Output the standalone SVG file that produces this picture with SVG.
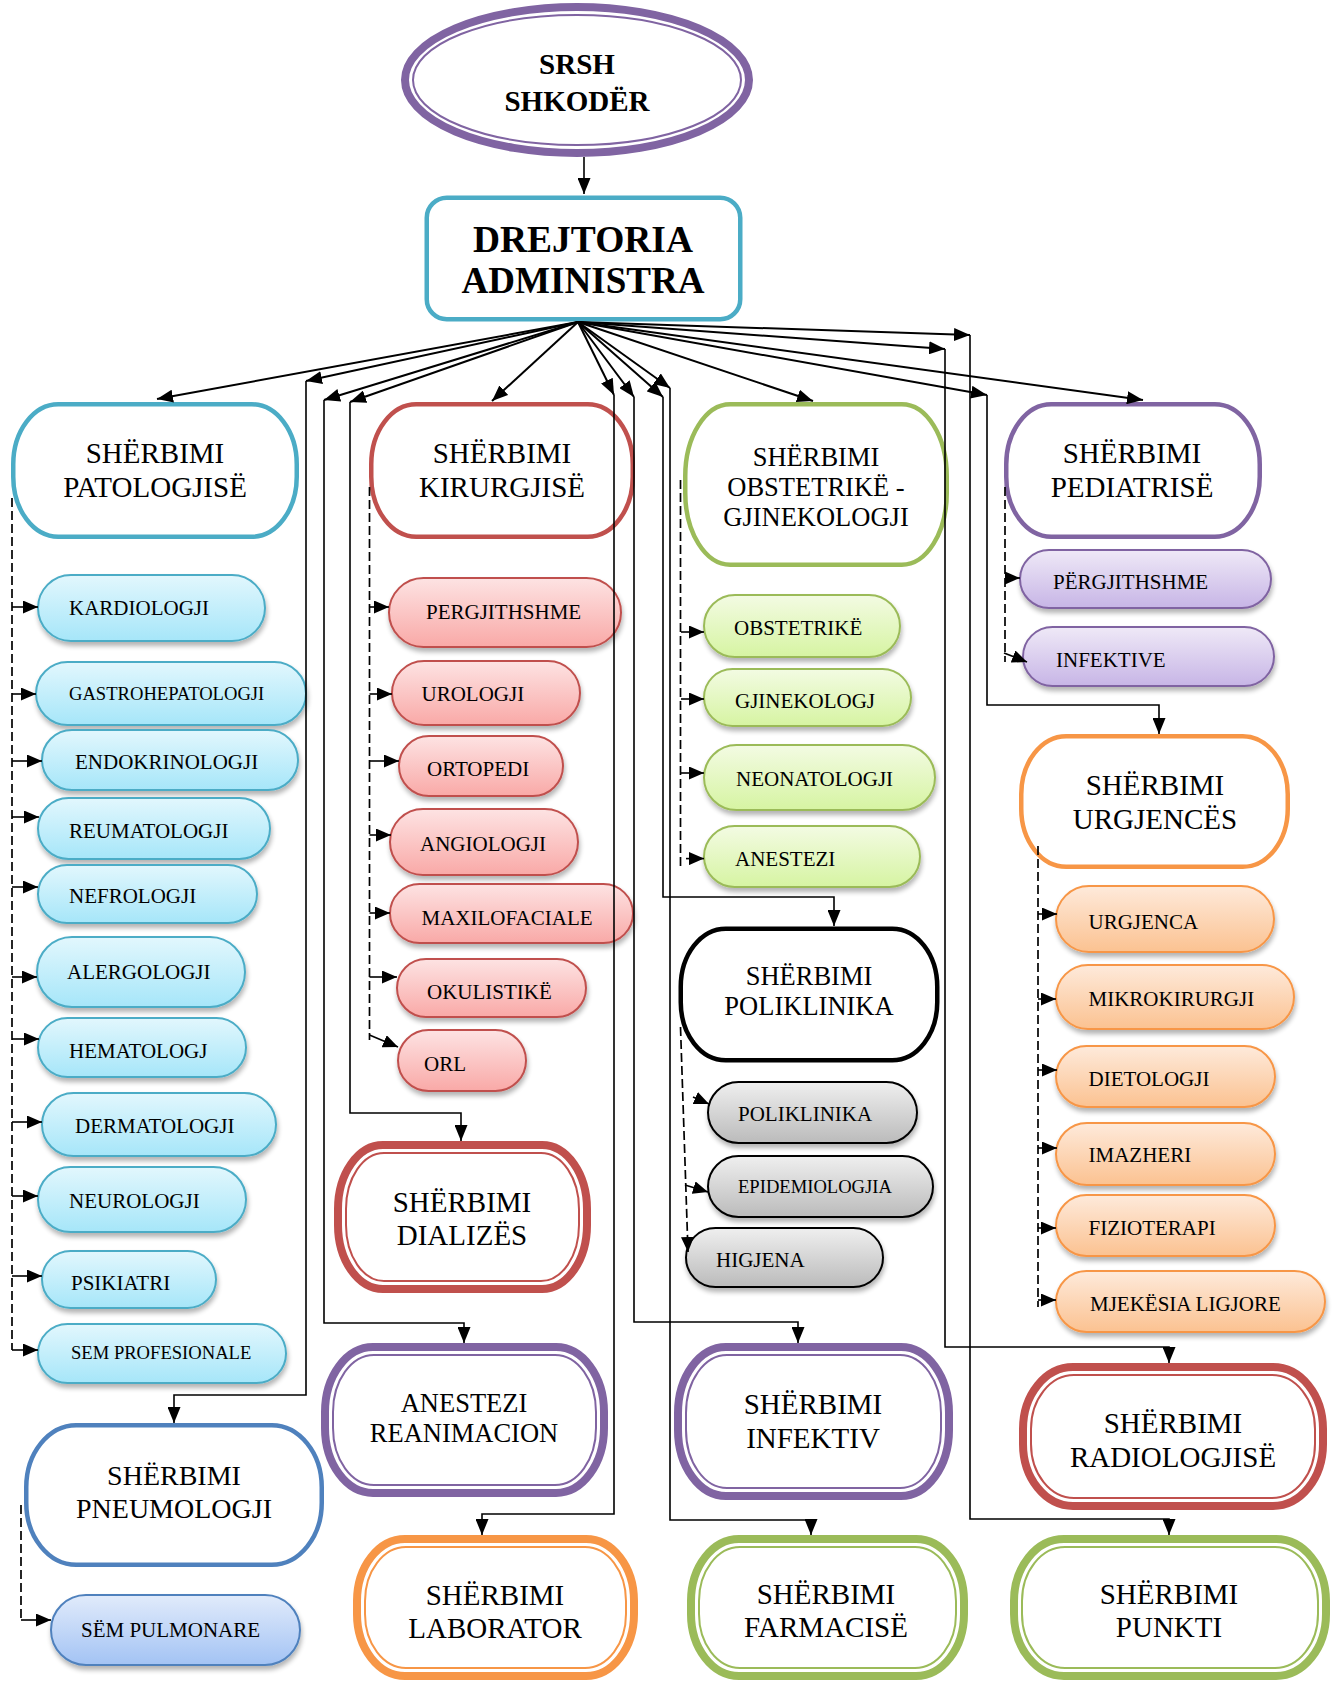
<svg xmlns="http://www.w3.org/2000/svg" width="1342" height="1682" viewBox="0 0 1342 1682">
<defs>
<style>
.tt{font-family:"Liberation Serif","Times New Roman",serif;fill:#000}
.h29{font-size:29px;text-anchor:middle}
.h28{font-size:28px;text-anchor:middle}
.h26{font-size:26.5px;text-anchor:middle}
.hb{font-weight:bold;text-anchor:middle}
.p21{font-size:21px}
.p18{font-size:18.6px}
.bn{fill:#fff;stroke-width:4.5}
.do{fill:#fff;stroke-width:8}
.di{fill:none;stroke-width:2}
.pl{stroke-width:2;filter:url(#sh)}
.c{fill:none;stroke:#000;stroke-width:1.6}
.dg{fill:none;stroke:#000;stroke-width:2}
.d{fill:none;stroke:#000;stroke-width:1.7;stroke-dasharray:9 4}
.a{marker-end:url(#ah)}
.s{marker-end:url(#as)}
.teal{stroke:#4BACC6}
.red{stroke:#C0504D}
.grn{stroke:#9BBB59}
.pur{stroke:#8064A2}
.org{stroke:#F79646}
.blk{stroke:#000}
.blu{stroke:#4F81BD}
</style>
<marker id="ah" viewBox="0 0 16 13" refX="16" refY="6.5" markerWidth="16" markerHeight="13" markerUnits="userSpaceOnUse" orient="auto"><path d="M0,0L16,6.5L0,13z" fill="#000"/></marker>
<marker id="as" viewBox="0 0 15 13" refX="15" refY="6.5" markerWidth="15" markerHeight="13" markerUnits="userSpaceOnUse" orient="auto"><path d="M0,0L15,6.5L0,13z" fill="#000"/></marker>
<filter id="sh" x="-10%" y="-20%" width="125%" height="170%"><feGaussianBlur in="SourceAlpha" stdDeviation="2.5"/><feOffset dx="1" dy="4"/><feComponentTransfer><feFuncA type="linear" slope="0.3"/></feComponentTransfer><feMerge><feMergeNode/><feMergeNode in="SourceGraphic"/></feMerge></filter>
<linearGradient id="gB" x1="0" y1="0" x2="0" y2="1"><stop offset="0" stop-color="#E2F7FD"/><stop offset="1" stop-color="#A6E6F9"/></linearGradient>
<linearGradient id="gR" x1="0" y1="0" x2="0" y2="1"><stop offset="0" stop-color="#FDE3E3"/><stop offset="1" stop-color="#F9A9A7"/></linearGradient>
<linearGradient id="gG" x1="0" y1="0" x2="0" y2="1"><stop offset="0" stop-color="#F3FBE3"/><stop offset="1" stop-color="#D6F4A2"/></linearGradient>
<linearGradient id="gP" x1="0" y1="0" x2="0" y2="1"><stop offset="0" stop-color="#EFE9F7"/><stop offset="1" stop-color="#C7B5E6"/></linearGradient>
<linearGradient id="gO" x1="0" y1="0" x2="0" y2="1"><stop offset="0" stop-color="#FEEADB"/><stop offset="1" stop-color="#FBC291"/></linearGradient>
<linearGradient id="gY" x1="0" y1="0" x2="0" y2="1"><stop offset="0" stop-color="#EFEFEF"/><stop offset="1" stop-color="#BBBBBB"/></linearGradient>
<linearGradient id="gU" x1="0" y1="0" x2="0" y2="1"><stop offset="0" stop-color="#E1EBFB"/><stop offset="1" stop-color="#A3C3F4"/></linearGradient>
</defs>
<rect x="0" y="0" width="1342" height="1682" fill="#fff"/>

<g id="srsh">
<ellipse cx="577" cy="80" rx="172" ry="73" fill="#fff" stroke="#8064A2" stroke-width="8"/>
<ellipse cx="577" cy="80" rx="164" ry="65" fill="none" stroke="#8064A2" stroke-width="2"/>
<text class="tt hb" x="577" y="73.5" font-size="29">SRSH</text>
<text class="tt hb" x="577" y="111" font-size="29">SHKODËR</text>
</g>

<g id="drejtoria">
<rect x="426.75" y="197.75" width="313.5" height="121.5" rx="20" class="bn teal" stroke-width="5.5"/>
<text class="tt hb" x="583" y="252" font-size="37" textLength="220" lengthAdjust="spacingAndGlyphs">DREJTORIA</text>
<text class="tt hb" x="583" y="293" font-size="37" textLength="243" lengthAdjust="spacingAndGlyphs">ADMINISTRA</text>
</g>

<g id="patologjise">
<rect x="13.25" y="404.25" width="283.5" height="132.5" rx="45" ry="60" class="bn teal"/>
<text class="tt h29" x="155" y="462.6">SHËRBIMI</text>
<text class="tt h29" x="155" y="496.6">PATOLOGJISË</text>
</g>
<g id="kirurgjise">
<rect x="371.25" y="404.25" width="261.5" height="132.5" rx="45" ry="60" class="bn red"/>
<text class="tt h29" x="502" y="462.6">SHËRBIMI</text>
<text class="tt h29" x="502" y="496.6">KIRURGJISË</text>
</g>
<g id="obstetrike">
<rect x="685.25" y="404.25" width="261.5" height="160.5" rx="45" ry="72" class="bn grn"/>
<text class="tt h26" x="816" y="465.7">SHËRBIMI</text>
<text class="tt h26" x="816" y="495.7">OBSTETRIKË -</text>
<text class="tt h26" x="816" y="525.7">GJINEKOLOGJI</text>
</g>
<g id="pediatrise">
<rect x="1006.25" y="404.25" width="253.5" height="132.5" rx="45" ry="60" class="bn pur"/>
<text class="tt h29" x="1132" y="462.6">SHËRBIMI</text>
<text class="tt h29" x="1132" y="496.6">PEDIATRISË</text>
</g>
<g id="urgjences">
<rect x="1021.25" y="736.25" width="266.5" height="130.5" rx="45" ry="58" class="bn org"/>
<text class="tt h29" x="1155" y="795">SHËRBIMI</text>
<text class="tt h29" x="1155" y="829">URGJENCËS</text>
</g>
<g id="poliklinika">
<rect x="680.75" y="928.75" width="256.5" height="131.5" rx="45" ry="58" class="bn blk" stroke-width="5.5"/>
<text class="tt h26" x="809" y="984.7">SHËRBIMI</text>
<text class="tt h26" x="809" y="1015">POLIKLINIKA</text>
</g>
<g id="pneumologji">
<rect x="26.25" y="1425.25" width="295.5" height="139.5" rx="50" ry="62" class="bn blu"/>
<text class="tt h28" x="174" y="1485">SHËRBIMI</text>
<text class="tt h28" x="174" y="1518">PNEUMOLOGJI</text>
</g>

<g id="dializes">
<rect x="338" y="1145" width="249" height="144" rx="45" ry="64" class="do red"/>
<rect x="346" y="1153" width="233" height="128" rx="38" ry="56" class="di red"/>
<text class="tt h29" x="462" y="1211.6">SHËRBIMI</text>
<text class="tt h29" x="462" y="1244.6">DIALIZËS</text>
</g>
<g id="anestezi-reanimacion">
<rect x="325" y="1347" width="279" height="146" rx="48" ry="65" class="do pur"/>
<rect x="333" y="1355" width="263" height="130" rx="41" ry="57" class="di pur"/>
<text class="tt h26" x="464" y="1411.7">ANESTEZI</text>
<text class="tt h26" x="464" y="1441.7">REANIMACION</text>
</g>
<g id="infektiv">
<rect x="678" y="1347" width="271" height="149" rx="48" ry="66" class="do pur"/>
<rect x="686" y="1355" width="255" height="133" rx="41" ry="58" class="di pur"/>
<text class="tt h29" x="813" y="1413.6">SHËRBIMI</text>
<text class="tt h29" x="813" y="1447.6">INFEKTIV</text>
</g>
<g id="radiologjise">
<rect x="1023" y="1367" width="300" height="139" rx="50" ry="62" class="do red"/>
<rect x="1031" y="1375" width="284" height="123" rx="43" ry="54" class="di red"/>
<text class="tt h29" x="1173" y="1432.6">SHËRBIMI</text>
<text class="tt h29" x="1173" y="1466.6">RADIOLOGJISË</text>
</g>
<g id="laborator">
<rect x="357" y="1539" width="277" height="137" rx="48" ry="62" class="do org"/>
<rect x="365" y="1547" width="261" height="121" rx="41" ry="54" class="di org"/>
<text class="tt h29" x="495" y="1604.6">SHËRBIMI</text>
<text class="tt h29" x="495" y="1637.6">LABORATOR</text>
</g>
<g id="farmacise">
<rect x="691" y="1539" width="273" height="137" rx="48" ry="62" class="do grn"/>
<rect x="699" y="1547" width="257" height="121" rx="41" ry="54" class="di grn"/>
<text class="tt h29" x="826" y="1603.6">SHËRBIMI</text>
<text class="tt h29" x="826" y="1636.6">FARMACISË</text>
</g>
<g id="punkti">
<rect x="1014" y="1539" width="312" height="137" rx="50" ry="62" class="do grn"/>
<rect x="1022" y="1547" width="296" height="121" rx="43" ry="54" class="di grn"/>
<text class="tt h29" x="1169" y="1603.6">SHËRBIMI</text>
<text class="tt h29" x="1169" y="1636.6">PUNKTI</text>
</g>

<g id="kardiologji"><rect x="38" y="575" width="227" height="66" rx="33" fill="url(#gB)" class="pl teal"/><text class="tt p21" x="69" y="615">KARDIOLOGJI</text></g>
<g id="gastrohepatologji"><rect x="36" y="662" width="270" height="63" rx="31.5" fill="url(#gB)" class="pl teal"/><text class="tt p18" x="69" y="700">GASTROHEPATOLOGJI</text></g>
<g id="endokrinologji"><rect x="42" y="730" width="256" height="60" rx="30" fill="url(#gB)" class="pl teal"/><text class="tt p21" x="75" y="769">ENDOKRINOLOGJI</text></g>
<g id="reumatologji"><rect x="38" y="798" width="232" height="61" rx="30.5" fill="url(#gB)" class="pl teal"/><text class="tt p21" x="69" y="838">REUMATOLOGJI</text></g>
<g id="nefrologji"><rect x="38" y="865" width="219" height="58" rx="29" fill="url(#gB)" class="pl teal"/><text class="tt p21" x="69" y="903">NEFROLOGJI</text></g>
<g id="alergologji"><rect x="37" y="937" width="208" height="70" rx="35" fill="url(#gB)" class="pl teal"/><text class="tt p21" x="67" y="979">ALERGOLOGJI</text></g>
<g id="hematologj"><rect x="38" y="1018" width="208" height="59" rx="29.5" fill="url(#gB)" class="pl teal"/><text class="tt p21" x="69" y="1058">HEMATOLOGJ</text></g>
<g id="dermatologji"><rect x="42" y="1093" width="234" height="63" rx="31.5" fill="url(#gB)" class="pl teal"/><text class="tt p21" x="75" y="1133">DERMATOLOGJI</text></g>
<g id="neurologji"><rect x="38" y="1167" width="208" height="65" rx="32.5" fill="url(#gB)" class="pl teal"/><text class="tt p21" x="69" y="1208">NEUROLOGJI</text></g>
<g id="psikiatri"><rect x="42" y="1251" width="174" height="57" rx="28.5" fill="url(#gB)" class="pl teal"/><text class="tt p21" x="71" y="1290">PSIKIATRI</text></g>
<g id="sem-profesionale"><rect x="38" y="1324" width="248" height="59" rx="29.5" fill="url(#gB)" class="pl teal"/><text class="tt p18" x="71" y="1359">SEM PROFESIONALE</text></g>

<g id="pergjithshme-k"><rect x="389" y="578" width="232" height="69" rx="34.5" fill="url(#gR)" class="pl red"/><text class="tt p21" x="426" y="619">PERGJITHSHME</text></g>
<g id="urologji"><rect x="392" y="661" width="188" height="64" rx="32" fill="url(#gR)" class="pl red"/><text class="tt p21" x="421.5" y="701">UROLOGJI</text></g>
<g id="ortopedi"><rect x="399" y="736" width="164" height="60" rx="30" fill="url(#gR)" class="pl red"/><text class="tt p21" x="427" y="776">ORTOPEDI</text></g>
<g id="angiologji"><rect x="390" y="809" width="188" height="66" rx="33" fill="url(#gR)" class="pl red"/><text class="tt p21" x="420" y="851">ANGIOLOGJI</text></g>
<g id="maxilofaciale"><rect x="390" y="884" width="243" height="59" rx="29.5" fill="url(#gR)" class="pl red"/><text class="tt p21" x="421.5" y="924.5">MAXILOFACIALE</text></g>
<g id="okulistike"><rect x="397" y="959" width="189" height="58" rx="29" fill="url(#gR)" class="pl red"/><text class="tt p21" x="427" y="999">OKULISTIKË</text></g>
<g id="orl"><rect x="398" y="1030" width="128" height="61" rx="30.5" fill="url(#gR)" class="pl red"/><text class="tt p21" x="424" y="1071">ORL</text></g>

<g id="obstetrike-p"><rect x="704" y="595" width="196" height="62" rx="31" fill="url(#gG)" class="pl grn"/><text class="tt p21" x="734" y="634.5">OBSTETRIKË</text></g>
<g id="gjinekologj"><rect x="704" y="669" width="207" height="57" rx="28.5" fill="url(#gG)" class="pl grn"/><text class="tt p21" x="735" y="708">GJINEKOLOGJ</text></g>
<g id="neonatologji"><rect x="704" y="745" width="231" height="65" rx="32.5" fill="url(#gG)" class="pl grn"/><text class="tt p21" x="736" y="786">NEONATOLOGJI</text></g>
<g id="anestezi-p"><rect x="704" y="826" width="216" height="61" rx="30.5" fill="url(#gG)" class="pl grn"/><text class="tt p21" x="735" y="865.5">ANESTEZI</text></g>

<g id="pergjithshme-p"><rect x="1020" y="550" width="251" height="58" rx="29" fill="url(#gP)" class="pl pur"/><text class="tt p21" x="1053" y="589">PËRGJITHSHME</text></g>
<g id="infektive"><rect x="1023" y="627" width="251" height="59" rx="29.5" fill="url(#gP)" class="pl pur"/><text class="tt p21" x="1056" y="667">INFEKTIVE</text></g>

<g id="urgjenca"><rect x="1056" y="886" width="218" height="66" rx="33" fill="url(#gO)" class="pl org"/><text class="tt p21" x="1088.5" y="929">URGJENCA</text></g>
<g id="mikrokirurgji"><rect x="1056" y="965" width="238" height="64" rx="32" fill="url(#gO)" class="pl org"/><text class="tt p21" x="1088.5" y="1006">MIKROKIRURGJI</text></g>
<g id="dietologji"><rect x="1056" y="1046" width="219" height="61" rx="30.5" fill="url(#gO)" class="pl org"/><text class="tt p21" x="1088.5" y="1086">DIETOLOGJI</text></g>
<g id="imazheri"><rect x="1056" y="1123" width="219" height="62" rx="31" fill="url(#gO)" class="pl org"/><text class="tt p21" x="1088.5" y="1162">IMAZHERI</text></g>
<g id="fizioterapi"><rect x="1056" y="1195" width="219" height="61" rx="30.5" fill="url(#gO)" class="pl org"/><text class="tt p21" x="1088.5" y="1235">FIZIOTERAPI</text></g>
<g id="mjekesia-ligjore"><rect x="1056" y="1271" width="269" height="61" rx="30.5" fill="url(#gO)" class="pl org"/><text class="tt p21" x="1090" y="1311">MJEKËSIA LIGJORE</text></g>

<g id="poliklinika-p"><rect x="708" y="1082" width="209" height="61" rx="30.5" fill="url(#gY)" class="pl blk"/><text class="tt p21" x="738" y="1121">POLIKLINIKA</text></g>
<g id="epidemiologjia"><rect x="708" y="1156" width="225" height="61" rx="30.5" fill="url(#gY)" class="pl blk"/><text class="tt p18" x="738" y="1193">EPIDEMIOLOGJIA</text></g>
<g id="higjena"><rect x="686" y="1228" width="197" height="59" rx="29.5" fill="url(#gY)" class="pl blk"/><text class="tt p21" x="716" y="1267">HIGJENA</text></g>

<g id="sem-pulmonare"><rect x="51" y="1595" width="249" height="70" rx="35" fill="url(#gU)" class="pl blu"/><text class="tt p21" x="81" y="1637">SËM PULMONARE</text></g>

<g id="connectors">
<path class="c a" d="M584,157V194"/>
<path class="dg a" d="M578,322L157,399"/>
<path class="dg a" d="M578,322L306,381"/>
<path class="c a" d="M306,381V1395H174V1423"/>
<path class="dg a" d="M578,322L324,400"/>
<path class="c a" d="M324,400V1323H464V1343"/>
<path class="dg a" d="M578,322L350,402"/>
<path class="c a" d="M350,402V1113H461V1141"/>
<path class="dg a" d="M578,322L492,401"/>
<path class="dg a" d="M578,322L614,395"/>
<path class="c a" d="M614,395V1514H482V1535"/>
<path class="dg a" d="M578,322L634,397"/>
<path class="c a" d="M634,397V1322H798V1343"/>
<path class="dg a" d="M578,322L663,397"/>
<path class="c a" d="M663,397V897H834V926"/>
<path class="dg a" d="M578,322L670,388"/>
<path class="c a" d="M670,388V1520H811V1535"/>
<path class="dg a" d="M578,322L813,401"/>
<path class="dg a" d="M578,322L945,349"/>
<path class="c a" d="M945,349V1347H1169V1363"/>
<path class="dg a" d="M578,322L970,335"/>
<path class="c a" d="M970,335V1519H1169V1535"/>
<path class="dg a" d="M578,322L987,395"/>
<path class="c a" d="M987,395V705H1159V734"/>
<path class="dg a" d="M578,322L1143,400"/>

<path class="d" d="M12,498V1350"/>
<path class="c s" d="M12,607H38"/>
<path class="c s" d="M12,694H36"/>
<path class="c s" d="M12,761H42"/>
<path class="c s" d="M12,817H39"/>
<path class="c s" d="M12,887H38"/>
<path class="c s" d="M12,977H37"/>
<path class="c s" d="M12,1039H39"/>
<path class="c s" d="M12,1122H42"/>
<path class="c s" d="M12,1196H38"/>
<path class="c s" d="M12,1276H42"/>
<path class="c s" d="M12,1350H38"/>

<path class="d" d="M369.5,487V1040"/>
<path class="c s" d="M369.5,607H389"/>
<path class="c s" d="M369.5,694H392"/>
<path class="c s" d="M369.5,761H399"/>
<path class="c s" d="M369.5,835H391"/>
<path class="c s" d="M369.5,913H390"/>
<path class="c s" d="M369.5,977H397"/>
<path class="c s" d="M369.5,1035L398,1047"/>

<path class="d" d="M680.5,480V866"/>
<path class="c s" d="M681,632H704"/>
<path class="c s" d="M681,699H704"/>
<path class="c s" d="M681,773H704"/>
<path class="c s" d="M686,858.6H704"/>

<path class="d" d="M1005,487V662"/>
<path class="c s" d="M1005,578H1020"/>
<path class="c s" d="M1004,653L1027,662"/>

<path class="d" d="M1038,846V1307"/>
<path class="c s" d="M1038,914H1057"/>
<path class="c s" d="M1038,999H1056"/>
<path class="c s" d="M1038,1070H1057"/>
<path class="c s" d="M1038,1148H1057"/>
<path class="c s" d="M1038,1228H1056"/>
<path class="c s" d="M1038,1300H1056"/>

<path class="d s" d="M680.5,1027L688,1252"/>
<path class="c s" d="M693,1097L709,1104"/>
<path class="c s" d="M685,1185L708,1192"/>

<path class="d" d="M21,1505V1622"/>
<path class="c s" d="M21,1620H51"/>
</g>
</svg>
